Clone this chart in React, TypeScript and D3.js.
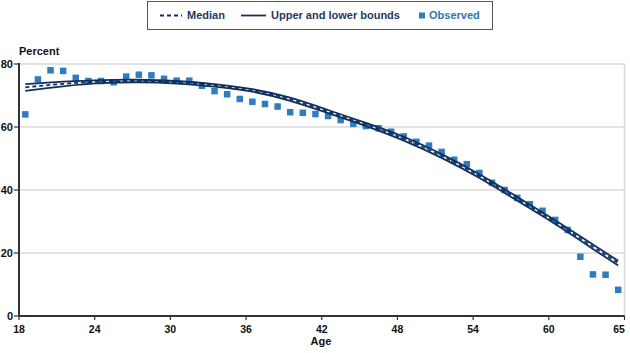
import * as d3 from "d3";

const observedAges = [
  18, 19, 20, 21, 22, 23, 24, 25, 26, 27, 28, 29, 30, 31, 32, 33, 34, 35, 36, 37, 38, 39, 40, 41,
  42, 43, 44, 45, 46, 47, 48, 49, 50, 51, 52, 53, 54, 55, 56, 57, 58, 59, 60, 61, 62, 63, 64, 65,
];
const observed = [
  64.0, 75.1, 78.0, 77.8, 75.6, 74.6, 74.6, 74.2, 76.0, 76.6, 76.4, 75.3, 74.7, 74.7, 73.1, 71.4,
  70.4, 68.9, 68.0, 67.3, 66.5, 64.7, 64.5, 64.1, 63.5, 62.2, 61.0, 60.3, 59.6, 58.5, 57.0, 55.3,
  54.1, 52.1, 49.6, 48.2, 45.4, 42.3, 40.0, 37.5, 35.5, 33.4, 30.5, 27.3, 18.8, 13.2, 13.1, 8.3,
];

const fitAges = [18, 21, 24, 27, 30, 33, 36, 39, 42, 45, 48, 51, 54, 57, 60, 63, 65];
const median = [72.6, 73.7, 74.4, 74.6, 74.2, 73.2, 71.6, 68.8, 64.9, 60.8, 56.3, 50.8, 44.4, 37.2, 29.8, 22.0, 16.8];
const upper = [73.6, 74.4, 74.9, 75.0, 74.6, 73.6, 72.0, 69.3, 65.4, 61.3, 56.9, 51.4, 45.0, 37.8, 30.4, 22.7, 17.5];
const lower = [71.5, 72.9, 73.9, 74.2, 73.8, 72.8, 71.2, 68.3, 64.4, 60.3, 55.7, 50.2, 43.8, 36.6, 29.2, 21.3, 16.0];

const xTickLabels = [18, 24, 30, 36, 42, 48, 54, 60, 65];
const yTicks = [0, 20, 40, 60, 80];

const W = 630;
const H = 353;
const FONT = "'Liberation Sans', Arial, sans-serif";
const NAVY = "#10305f";
const BLUE = "#2f7dc0";

export default function App() {
  // each age is a band one year wide; points sit at the band centre
  const x = d3.scaleLinear().domain([18, 66]).range([19, 624.5]);
  const y = d3.scaleLinear().domain([0, 80]).range([316, 64]);
  const px = (a: number) => x(a + 0.5);
  const tickX = (t: number) => (t === 65 ? x(66) : x(t));

  const line = d3
    .line<number>()
    .x((_, i) => px(fitAges[i]))
    .y((d) => y(d))
    .curve(d3.curveNatural);

  const sq = 6.5;

  return (
    <div style={{ position: "fixed", left: 0, top: 0, width: W, height: H, background: "#fff" }}>
      <svg width={W} height={H} style={{ display: "block", fontFamily: FONT }}>
        {/* gridlines */}
        {yTicks.slice(1).map((t) => (
          <line key={t} x1={x(18)} x2={x(66)} y1={y(t)} y2={y(t)} stroke="#d9d9d9" strokeWidth={1.5} />
        ))}
        <line x1={x(66)} x2={x(66)} y1={y(80)} y2={y(0)} stroke="#d9d9d9" strokeWidth={1.5} />

        {/* observed */}
        {observed.map((v, i) => (
          <rect
            key={i}
            x={px(observedAges[i]) - sq / 2}
            y={y(v) - sq / 2}
            width={sq}
            height={sq}
            fill={BLUE}
          />
        ))}

        {/* bounds and median */}
        <path d={line(upper) ?? ""} fill="none" stroke={NAVY} strokeWidth={1.8} />
        <path d={line(lower) ?? ""} fill="none" stroke={NAVY} strokeWidth={1.8} />
        <path d={line(median) ?? ""} fill="none" stroke={NAVY} strokeWidth={1.8} strokeDasharray="4 3" />

        {/* axes */}
        <line x1={x(18)} x2={x(18)} y1={y(80) - 1} y2={y(0)} stroke="#333" strokeWidth={2} />
        <line x1={x(18) - 1} x2={x(66)} y1={y(0)} y2={y(0)} stroke="#333" strokeWidth={2} />
        {yTicks.map((t) => (
          <g key={t}>
            <line x1={x(18) - 5} x2={x(18)} y1={y(t)} y2={y(t)} stroke="#333" strokeWidth={1.2} />
            <text x={13} y={y(t)} dy="0.35em" textAnchor="end" fontSize={11} fontWeight="bold" fill="#111">
              {t}
            </text>
          </g>
        ))}
        {xTickLabels.map((t) => (
          <g key={t}>
            <line x1={tickX(t)} x2={tickX(t)} y1={y(0)} y2={y(0) + 4} stroke="#333" strokeWidth={1.2} />
            <text
              x={Math.min(tickX(t), 619)}
              y={y(0) + 13}
              dy="0.35em"
              textAnchor="middle"
              fontSize={10.5}
              fontWeight="bold"
              fill="#111"
            >
              {t}
            </text>
          </g>
        ))}
        <text x={19} y={55} fontSize={11} fontWeight="bold" fill="#111">
          Percent
        </text>
        <text x={321} y={345} textAnchor="middle" fontSize={11} fontWeight="bold" fill="#111">
          Age
        </text>

        {/* legend */}
        <rect x={147.5} y={1.5} width={345} height={28} fill="#fff" stroke="#555" strokeWidth={1} />
        <line x1={160} x2={182} y1={15.5} y2={15.5} stroke={NAVY} strokeWidth={1.8} strokeDasharray="4 3" />
        <text x={187} y={15.5} dy="0.35em" fontSize={11} fontWeight="bold" fill="#1f3864">
          Median
        </text>
        <line x1={241} x2={266} y1={15.5} y2={15.5} stroke={NAVY} strokeWidth={1.8} />
        <text x={271} y={15.5} dy="0.35em" fontSize={11} fontWeight="bold" fill="#1f3864">
          Upper and lower bounds
        </text>
        <rect x={419} y={12.5} width={6} height={6} fill={BLUE} />
        <text x={429} y={15.5} dy="0.35em" fontSize={11} fontWeight="bold" fill="#2e75b6">
          Observed
        </text>
      </svg>
    </div>
  );
}
